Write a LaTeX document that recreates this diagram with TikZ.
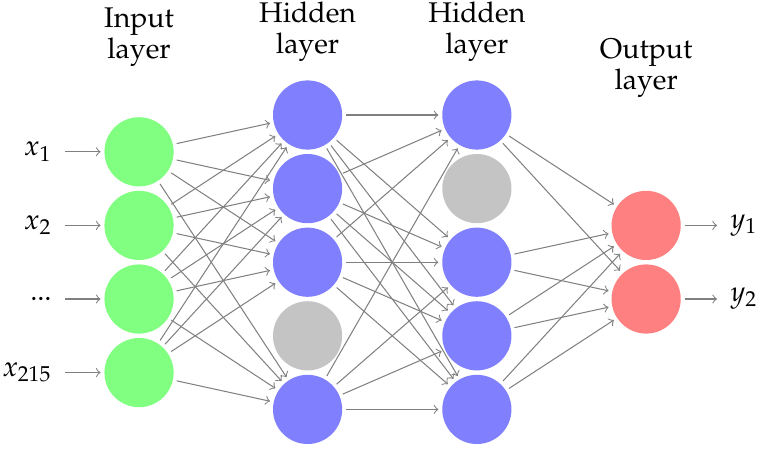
\documentclass[tikz,border=0pt]{standalone}
\usepackage[T1]{fontenc}
\usepackage{mathpazo}
\usepackage{amsmath}
\usepackage{amssymb}

\begin{document}
\begin{tikzpicture}[font=\fontsize{11}{12}\selectfont, main/.style = {circle, minimum size=9.4mm, inner sep=0pt, outer sep=1.5pt}, lbl/.style = {inner xsep=5pt}, link/.style = {->, gray}]
\useasboundingbox (-1.889,-4.538) rectangle (8.505,1.5625);
% layer titles
\node[align=center] (ti) at (0,1.06) {Input\\layer};
\node[align=center] (th) at (2.29,1.135) {Hidden\\layer};
\node[align=center] (tk) at (4.59,1.135) {Hidden\\layer};
\node[align=center] (to) at (6.89,0.64) {Output\\layer};
% input layer
\node[main, fill=green!50] (i1) at (0,-0.5) {};
\node[main, fill=green!50] (i2) at (0,-1.5) {};
\node[main, fill=green!50] (i3) at (0,-2.5) {};
\node[main, fill=green!50] (i4) at (0,-3.5) {};
\node[lbl, anchor=east] (x1) at (-1.005,-0.5) {$x_1$};
\node[lbl, anchor=east] (x2) at (-1.005,-1.5) {$x_2$};
\node[lbl, anchor=east] (x3) at (-1.005,-2.5) {$...$};
\node[lbl, anchor=east] (x4) at (-1.005,-3.5) {$x_{215}$};
% first hidden layer
\node[main, fill=blue!50] (h1) at (2.29,0) {};
\node[main, fill=blue!50] (h2) at (2.29,-1) {};
\node[main, fill=blue!50] (h3) at (2.29,-2) {};
\node[main, fill=black!23] (h4) at (2.29,-3) {};
\node[main, fill=blue!50] (h5) at (2.29,-4) {};
% second hidden layer
\node[main, fill=blue!50] (k1) at (4.59,0) {};
\node[main, fill=black!23] (k2) at (4.59,-1) {};
\node[main, fill=blue!50] (k3) at (4.59,-2) {};
\node[main, fill=blue!50] (k4) at (4.59,-3) {};
\node[main, fill=blue!50] (k5) at (4.59,-4) {};
% output layer
\node[main, fill=red!50] (o1) at (6.89,-1.5) {};
\node[main, fill=red!50] (o2) at (6.89,-2.5) {};
\node[lbl, anchor=west] (y1) at (7.853,-1.5) {$y_1$};
\node[lbl, anchor=west] (y2) at (7.853,-2.5) {$y_2$};
% inputs and outputs
\draw[link] (x1) -- (i1);
\draw[link] (x2) -- (i2);
\draw[link] (x3) -- (i3);
\draw[link] (x4) -- (i4);
\draw[link] (o1) -- (y1);
\draw[link] (o2) -- (y2);
% input -> hidden
\draw[link] (i1) -- (h1);
\draw[link] (i1) -- (h2);
\draw[link] (i1) -- (h3);
\draw[link] (i1) -- (h5);
\draw[link] (i2) -- (h1);
\draw[link] (i2) -- (h2);
\draw[link] (i2) -- (h3);
\draw[link] (i2) -- (h5);
\draw[link] (i3) -- (h1);
\draw[link] (i3) -- (h2);
\draw[link] (i3) -- (h3);
\draw[link] (i3) -- (h5);
\draw[link] (i4) -- (h1);
\draw[link] (i4) -- (h2);
\draw[link] (i4) -- (h3);
\draw[link] (i4) -- (h5);
% hidden -> hidden
\draw[link] (h1) -- (k1);
\draw[link] (h1) -- (k3);
\draw[link] (h1) -- (k4);
\draw[link] (h1) -- (k5);
\draw[link] (h2) -- (k1);
\draw[link] (h2) -- (k3);
\draw[link] (h2) -- (k4);
\draw[link] (h2) -- (k5);
\draw[link] (h3) -- (k1);
\draw[link] (h3) -- (k3);
\draw[link] (h3) -- (k4);
\draw[link] (h3) -- (k5);
\draw[link] (h5) -- (k1);
\draw[link] (h5) -- (k3);
\draw[link] (h5) -- (k4);
\draw[link] (h5) -- (k5);
% hidden -> output
\draw[link] (k1) -- (o1);
\draw[link] (k1) -- (o2);
\draw[link] (k3) -- (o1);
\draw[link] (k3) -- (o2);
\draw[link] (k4) -- (o1);
\draw[link] (k4) -- (o2);
\draw[link] (k5) -- (o1);
\draw[link] (k5) -- (o2);
\end{tikzpicture}
\end{document}
